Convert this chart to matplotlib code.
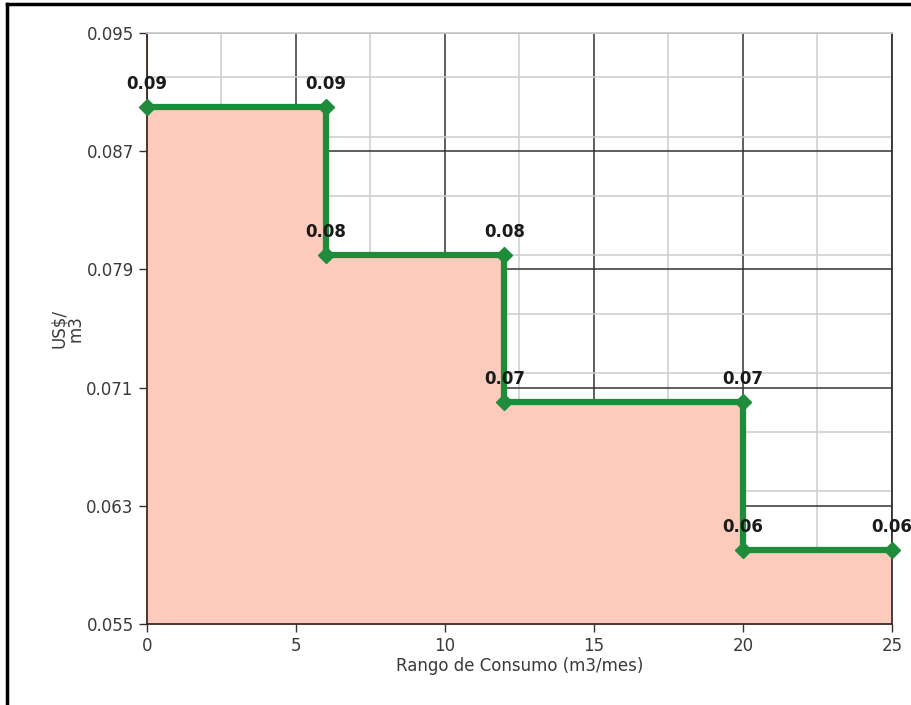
import numpy as np
from matplotlib import pyplot as plt
from matplotlib.ticker import MultipleLocator
from matplotlib.lines import Line2D

# tariff steps: consumption range (m3/mes) vs price (US$/m3)
consumo = [0, 6, 6, 12, 12, 20, 20, 25]
precio = [0.09, 0.09, 0.08, 0.08, 0.07, 0.07, 0.06, 0.06]
etiquetas = ['0.09', '0.09', '0.08', '0.08', '0.07', '0.07', '0.06', '0.06']
yticks = [0.055, 0.063, 0.071, 0.079, 0.087, 0.095]
xticks = [0, 5, 10, 15, 20, 25]

fill_color = '#fccbbb'
line_color = '#1e8c3a'

plt.rcParams['font.family'] = 'DejaVu Sans'

fig = plt.figure(figsize=(9.12, 7.05), dpi=100)
ax = fig.add_axes([0.161, 0.115, 0.817, 0.838])

ax.set_xlim(0, 25)
ax.set_ylim(0.055, 0.095)
ax.set_xticks(xticks)
ax.set_yticks(yticks)
ax.set_yticklabels(['%.3f' % t for t in yticks])
ax.xaxis.set_minor_locator(MultipleLocator(2.5))
ax.yaxis.set_minor_locator(MultipleLocator(0.004))

ax.grid(which='major', color='#333333', linewidth=1.1, zorder=0)
ax.grid(which='minor', color='#cccccc', linewidth=1.1, zorder=0)
ax.set_axisbelow(True)
ax.tick_params(which='minor', length=0)
ax.tick_params(which='major', direction='out', length=6, width=1,
               color='#333333', labelcolor='#3a3a3a', labelsize=12)

ax.fill_between(consumo, precio, 0.055, color=fill_color, zorder=2, linewidth=0)
ax.plot(consumo, precio, '-D', color=line_color, linewidth=4.5, markersize=8,
        zorder=4, clip_on=False)

for x, y, lab in zip(consumo, precio, etiquetas):
    ax.annotate(lab, (x, y), xytext=(0, 10), textcoords='offset points',
                ha='center', va='bottom', fontsize=12, fontweight='bold',
                color='#1a1a1a', zorder=5)

ax.spines['top'].set_color('#cccccc')
ax.spines['left'].set_color('#3a2a20')
ax.spines['bottom'].set_color('#3a2a20')
ax.spines['right'].set_color('#333333')
for s in ax.spines.values():
    s.set_linewidth(1.3)
    s.set_zorder(3)

ax.set_xlabel('Rango de Consumo (m3/mes)', fontsize=12, color='#3a3a3a', labelpad=1)
ax.set_ylabel('US$/\nm3', fontsize=12, color='#3a3a3a', linespacing=0.9)
ax.yaxis.set_label_coords(-0.083, 0.5)

# outer frame (top and left edges)
fig.add_artist(Line2D([0.008, 0.008], [0, 0.994], transform=fig.transFigure,
                      color='black', linewidth=2.5))
fig.add_artist(Line2D([0.008, 1.0], [0.994, 0.994], transform=fig.transFigure,
                      color='black', linewidth=2.5))

plt.savefig('out.png', dpi=100)
